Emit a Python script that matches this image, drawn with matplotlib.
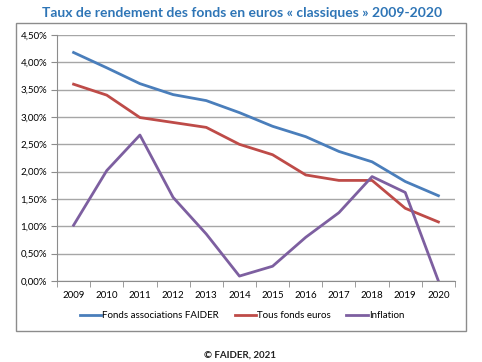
import matplotlib.pyplot as plt
from matplotlib.patches import Rectangle
from matplotlib.ticker import FuncFormatter, MultipleLocator

plt.rcParams['font.family'] = ['Lato', 'DejaVu Sans']

years = ['2009', '2010', '2011', '2012', '2013', '2014', '2015', '2016', '2017', '2018', '2019', '2020']
faider = [4.18, 3.90, 3.61, 3.41, 3.30, 3.08, 2.83, 2.64, 2.37, 2.18, 1.82, 1.56]
tous_fonds = [3.60, 3.40, 2.99, 2.90, 2.81, 2.50, 2.31, 1.94, 1.84, 1.84, 1.33, 1.08]
inflation = [1.02, 2.02, 2.67, 1.53, 0.86, 0.09, 0.27, 0.80, 1.25, 1.91, 1.62, 0.0]

fig = plt.figure(figsize=(4.82, 3.62), dpi=100)

# outer chart frame
fig.patches.append(Rectangle((16 / 482, 1 - 331 / 362), 450 / 482, 308 / 362,
                             transform=fig.transFigure, fill=False,
                             edgecolor='#8c8c8c', linewidth=1.0))

ax = fig.add_axes([57 / 482, 1 - 281 / 362, 398 / 482, 246 / 362])
x = list(range(len(years)))
ax.plot(x, faider, color='#4A7EBB', lw=2, label='Fonds associations FAIDER')
ax.plot(x, tous_fonds, color='#BE4B48', lw=2, label='Tous fonds euros')
ax.plot(x, inflation, color='#7D5FA0', lw=2, label='Inflation')

ax.set_xlim(-0.5, len(years) - 0.5)
ax.set_ylim(0, 4.5)
ax.yaxis.set_major_locator(MultipleLocator(0.5))
ax.yaxis.set_major_formatter(FuncFormatter(lambda v, p: f'{v:.2f}%'.replace('.', ',')))
ax.set_xticks(x)
ax.set_xticklabels(years)
ax.set_xticks([i - 0.5 for i in range(len(years) + 1)], minor=True)
ax.tick_params(axis='x', which='major', length=0, pad=7, labelsize=7)
ax.tick_params(axis='x', which='minor', length=4, color='#8c8c8c')
ax.tick_params(axis='y', length=4, color='#8c8c8c', labelsize=7, pad=3)
ax.grid(axis='y', color='#a6a6a6', lw=1)
ax.set_axisbelow(True)
for s in ['top', 'right']:
    ax.spines[s].set_visible(False)
for s in ['left', 'bottom']:
    ax.spines[s].set_color('#8c8c8c')

fig.legend(loc='center', bbox_to_anchor=(242 / 482, 1 - 316 / 362), ncol=3,
           frameon=False, fontsize=7, handlelength=2.2, handletextpad=0.1,
           columnspacing=1.6)

fig.text(242 / 482, 1 - 13 / 362, 'Taux de rendement des fonds en euros « classiques » 2009-2020',
         ha='center', va='center', fontsize=10, fontweight='bold', color='#2E75B6')
fig.text(240 / 482, 1 - 355 / 362, '© FAIDER, 2021', ha='center', va='center',
         fontsize=7, fontweight='bold', color='#222222')

fig.savefig('out.png', dpi=100)
